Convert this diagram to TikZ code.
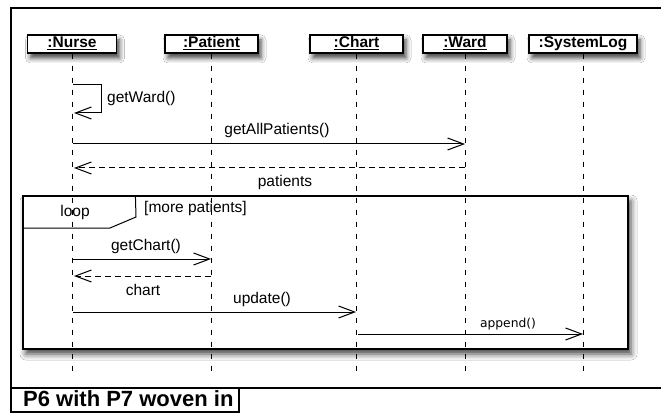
\documentclass[tikz,border=0pt]{standalone}
\usepackage{fontspec}
\setmainfont{Liberation Sans}
\newfontfamily\smallsans{DejaVu Sans}
\usetikzlibrary{arrows.meta,shadows.blur}
\tikzset{
  objbox/.style={draw, line width=1.2pt, fill=white, minimum height=18pt, inner sep=0pt,
    text height=11pt, text depth=4pt,
    font=\fontsize{15.5}{16}\selectfont\bfseries,
    blur shadow={shadow xshift=3pt, shadow yshift=-5pt, shadow blur radius=5pt, shadow opacity=75}},
  lifeline/.style={line width=1pt, dash pattern=on 5pt off 7pt},
  msg/.style={line width=1pt, -{Straight Barb[length=16pt,width=12pt,line width=1pt]}},
  retmsg/.style={msg, dash pattern=on 6pt off 4pt},
  lbl/.style={font=\fontsize{15.5}{16}\selectfont, inner sep=0pt, anchor=base},
  framebox/.style={draw, line width=1.2pt, fill=white, inner sep=0pt,
    blur shadow={shadow xshift=3pt, shadow yshift=-5pt, shadow blur radius=6pt, shadow opacity=75}},
  outer/.style={line width=2pt}
}
\begin{document}
\begin{tikzpicture}[x=1pt,y=-1pt]
\useasboundingbox (0,0) rectangle (661,414);
\fill[white] (0,0) rectangle (661,414);
% outer frame
\draw[outer] (662,8) -- (11,8) -- (11,412) -- (239,412) -- (239,388);
\draw[outer] (11,388) -- (662,388);
\node[font=\fontsize{22}{22}\selectfont\bfseries, inner sep=0pt, anchor=base west] (title) at (23,406) {P6 with P7 woven in};
% loop frame
\node[framebox, minimum width=605pt, minimum height=153pt] (loop) at (325.5,272.5) {};
\draw[line width=1pt] (loop.north west) ++(113,0) coordinate (t1) -- (136,217) coordinate (t2) -- (110,228) coordinate (t3) -- (23,228) coordinate (t4);
\node[lbl] (looplbl) at (75,217) {loop};
\node[lbl, anchor=base west] (guard) at (144,212) {[more patients]};
% objects
\node[objbox, minimum width=89pt] (nurse) at (72,44) {\underline{:Nurse}};
\node[objbox, minimum width=93pt] (patient) at (211.5,44) {\underline{:Patient}};
\node[objbox, minimum width=93pt] (chart) at (356.5,44) {\underline{:Chart}};
\node[objbox, minimum width=84pt] (ward) at (465,44) {\underline{:Ward}};
\node[objbox, minimum width=108pt] (syslog) at (583,44) {\underline{:SystemLog}};
% lifelines
\coordinate (nurseEnd) at (72,372);
\coordinate (patientEnd) at (211.5,372);
\coordinate (chartEnd) at (356.5,372);
\coordinate (wardEnd) at (465,372);
\coordinate (syslogEnd) at (583,372);
\draw[lifeline] (nurse.south) -- (nurseEnd);
\draw[lifeline] (patient.south) -- (patientEnd);
\draw[lifeline] (chart.south) -- (chartEnd);
\draw[lifeline] (ward.south) -- (wardEnd);
\draw[lifeline] (syslog.south) -- (syslogEnd);
% getWard self message
\coordinate (s1) at (73,85);
\coordinate (s2) at (101,85);
\coordinate (s3) at (101,113);
\coordinate (s4) at (74,113);
\draw[msg] (s1) -- (s2) -- (s3) -- (s4);
\node[lbl, anchor=base west] (lgw) at (107,103) {getWard()};
% getAllPatients
\coordinate (a1) at (73,144);
\coordinate (a2) at (465,144);
\draw[msg] (a1) -- (a2);
\node[lbl] (lgap) at (277,135) {getAllPatients()};
% patients
\coordinate (p1) at (465,168);
\coordinate (p2) at (74,168);
\draw[retmsg] (p1) -- (p2);
\node[lbl] (lpat) at (285,186) {patients};
% getChart
\coordinate (c1) at (73,259);
\coordinate (c2) at (211,259);
\draw[msg] (c1) -- (c2);
\node[lbl] (lgc) at (146,250) {getChart()};
% chart return
\coordinate (r1) at (211,276);
\coordinate (r2) at (74,276);
\draw[retmsg] (r1) -- (r2);
\node[lbl] (lch) at (143,295) {chart};
% update
\coordinate (u1) at (73,312);
\coordinate (u2) at (356,312);
\draw[msg] (u1) -- (u2);
\node[lbl] (lup) at (262,303) {update()};
% append
\coordinate (ap1) at (358,334);
\coordinate (ap2) at (583,334);
\draw[msg] (ap1) -- (ap2);
\node[lbl, font=\smallsans\fontsize{12.3}{13}\selectfont] (lap) at (508,327) {append()};
\end{tikzpicture}
\end{document}
